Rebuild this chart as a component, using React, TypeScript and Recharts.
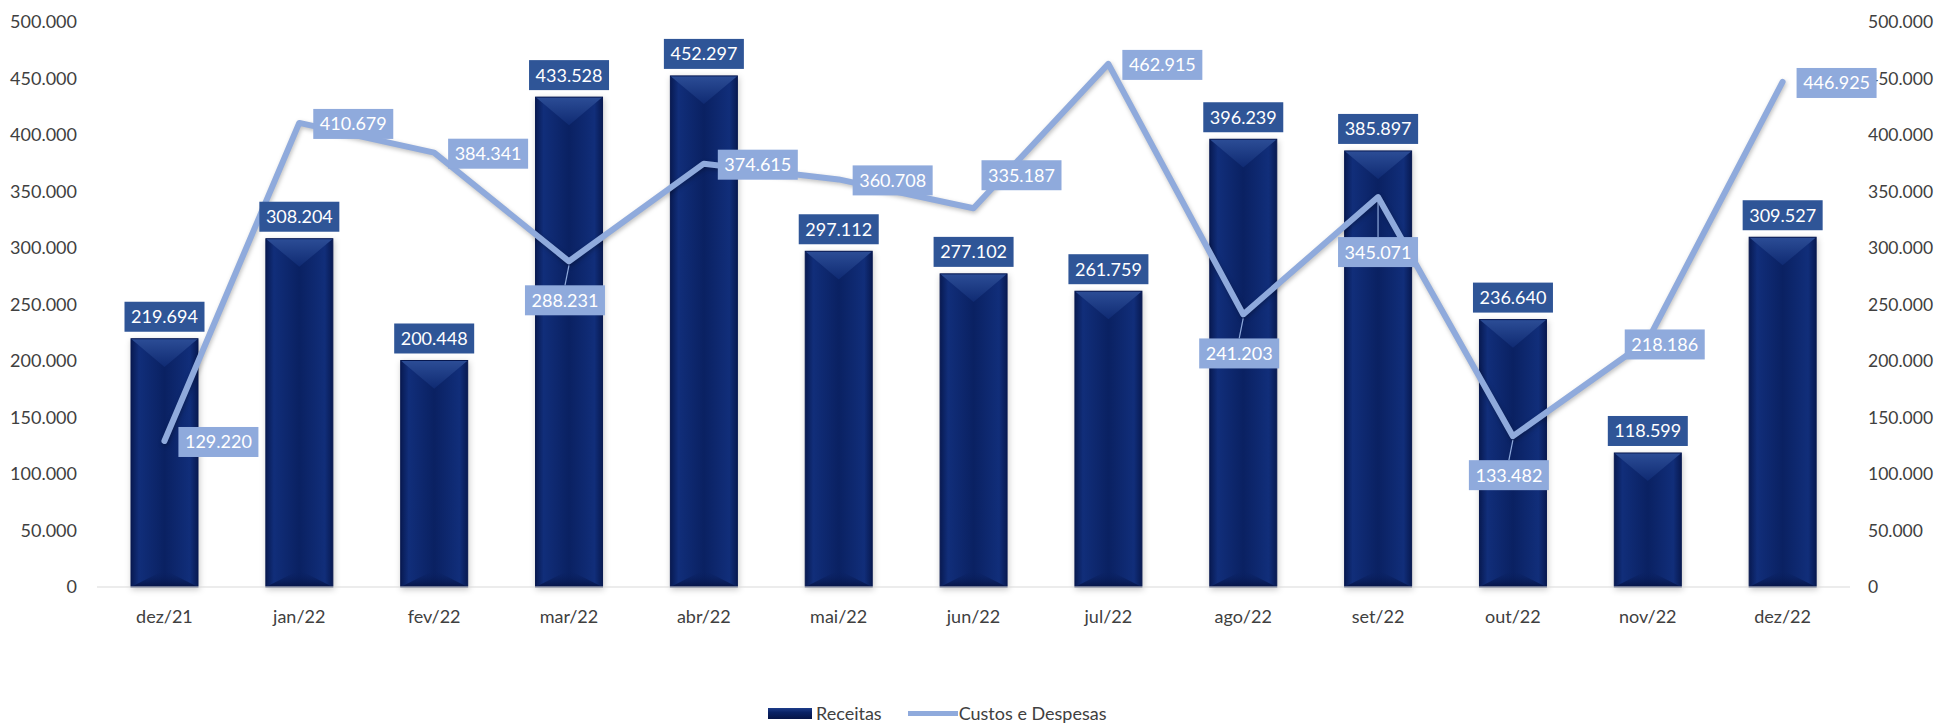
import React from 'react';
import {
  ComposedChart,
  Bar,
  Line,
  XAxis,
  YAxis,
  LabelList,
} from 'recharts';

const CATEGORIES = ['dez/21', 'jan/22', 'fev/22', 'mar/22', 'abr/22', 'mai/22', 'jun/22', 'jul/22', 'ago/22', 'set/22', 'out/22', 'nov/22', 'dez/22'];
const RECEITAS = [219694, 308204, 200448, 433528, 452297, 297112, 277102, 261759, 396239, 385897, 236640, 118599, 309527];
const CUSTOS = [129220, 410679, 384341, 288231, 374615, 360708, 335187, 462915, 241203, 345071, 133482, 218186, 446925];
const Y_TICKS = [0, 50000, 100000, 150000, 200000, 250000, 300000, 350000, 400000, 450000, 500000];

// where each "Custos e Despesas" label sits relative to its point
const LINE_LABEL_PLACEMENT = ['right', 'right', 'right', 'below', 'right', 'right', 'aboveRight', 'right', 'below', 'belowFar', 'below', 'center', 'right'];

const data = CATEGORIES.map((month, i) => ({
  month,
  receitas: RECEITAS[i],
  custos: CUSTOS[i],
}));

const FONT = 'Lato, "Open Sans", sans-serif';
const BAR_LABEL_BG = '#2f5597';
const LINE_COLOR = '#8faadc';
const TICK_COLOR = '#404040';

const fmt = (v: number) => String(Math.round(v)).replace(/\B(?=(\d{3})+(?!\d))/g, '.');

const BOX_W = 80;
const BOX_H = 30;

const BevelBar = (props: any) => {
  const { x, y, width: w, height: h, index } = props;
  if (!h || h <= 0) return null;
  const t = Math.min(w * 0.42, h / 2);
  const id = `bev-${index}`;
  return (
    <g style={{ filter: 'drop-shadow(1px 2px 3px rgba(0,0,0,0.22))' }}>
      <defs>
        <linearGradient id={`${id}-body`} x1="0" y1="0" x2="1" y2="0">
          <stop offset="0%" stopColor="#081a52" />
          <stop offset="12%" stopColor="#112e7a" />
          <stop offset="50%" stopColor="#0a2162" />
          <stop offset="88%" stopColor="#112e7a" />
          <stop offset="100%" stopColor="#081a52" />
        </linearGradient>
        <linearGradient id={`${id}-top`} x1="0" y1="0" x2="0" y2="1">
          <stop offset="0%" stopColor="#2c4d96" />
          <stop offset="100%" stopColor="#0f2a72" />
        </linearGradient>
        <linearGradient id={`${id}-bot`} x1="0" y1="1" x2="0" y2="0">
          <stop offset="0%" stopColor="#061446" />
          <stop offset="100%" stopColor="#0a2265" stopOpacity={0} />
        </linearGradient>
      </defs>
      <rect x={x} y={y} width={w} height={h} fill={`url(#${id}-body)`} />
      <polygon points={`${x},${y} ${x + w},${y} ${x + w / 2},${y + t}`} fill={`url(#${id}-top)`} />
      <polygon points={`${x},${y + h} ${x + w},${y + h} ${x + w / 2},${y + h - t * 0.6}`} fill={`url(#${id}-bot)`} />
      <rect x={x} y={y} width={w} height={h} fill="none" stroke="#071850" strokeWidth={1} />
    </g>
  );
};

const BarValueLabel = (props: any) => {
  const { x, y, width, value } = props;
  const cx = x + width / 2;
  const top = y - 7 - BOX_H;
  return (
    <g>
      <rect x={cx - BOX_W / 2} y={top} width={BOX_W} height={BOX_H} fill={BAR_LABEL_BG} />
      <text x={cx} y={top + BOX_H / 2} dy="0.36em" textAnchor="middle" fill="#fff" fontSize={18} fontFamily={FONT}>
        {fmt(value)}
      </text>
    </g>
  );
};

const LineValueLabel = (props: any) => {
  const { x, y, value, index } = props;
  const place = LINE_LABEL_PLACEMENT[index] || 'right';
  let left = x + 14;
  let cy = y + 1;
  let leader = false;
  if (place === 'below') {
    left = x - 4 - BOX_W / 2;
    cy = y + 24 + BOX_H / 2;
    leader = true;
  } else if (place === 'belowFar') {
    left = x - BOX_W / 2;
    cy = y + 40 + BOX_H / 2;
    leader = true;
  } else if (place === 'aboveRight') {
    left = x + 8;
    cy = y - 33;
  } else if (place === 'center') {
    left = x - 23;
    cy = y + 4;
  }
  return (
    <g>
      {leader && (
        <line x1={x} y1={y + 4} x2={left + BOX_W / 2} y2={cy - BOX_H / 2} stroke={LINE_COLOR} strokeWidth={1.2} />
      )}
      <rect x={left} y={cy - BOX_H / 2} width={BOX_W} height={BOX_H} fill={LINE_COLOR} />
      <text x={left + BOX_W / 2} y={cy} dy="0.36em" textAnchor="middle" fill="#fff" fontSize={18} fontFamily={FONT}>
        {fmt(value)}
      </text>
    </g>
  );
};

const Legend = () => (
  <div
    style={{
      position: 'absolute',
      left: 768,
      top: 702,
      display: 'flex',
      alignItems: 'center',
      fontFamily: FONT,
      fontSize: 18,
      color: TICK_COLOR,
      whiteSpace: 'nowrap',
    }}
  >
    <span style={{ display: 'inline-block', width: 44, height: 11, background: 'linear-gradient(#1d3c8a, #0a2265 40%, #061446)', marginRight: 4 }} />
    <span>Receitas</span>
    <span style={{ display: 'inline-block', width: 50, height: 5, background: LINE_COLOR, marginLeft: 26, marginRight: 1 }} />
    <span>Custos e Despesas</span>
  </div>
);

export default function App() {
  const tickStyle = { fontSize: 18, fontFamily: FONT, fill: TICK_COLOR };
  return (
    <div style={{ position: 'absolute', left: 0, top: 0, width: 1939, height: 726, background: '#fff' }}>
      <ComposedChart width={1939} height={726} data={data} margin={{ top: 22, right: 0, left: 0, bottom: 0 }}>
        <XAxis
          dataKey="month"
          height={139}
          tickLine={false}
          tickSize={0}
          tickMargin={23}
          axisLine={{ stroke: '#d9d9d9' }}
          tick={tickStyle}
          interval={0}
        />
        <YAxis
          yAxisId="left"
          width={97}
          domain={[0, 500000]}
          ticks={Y_TICKS}
          tickFormatter={fmt}
          axisLine={false}
          tickLine={false}
          tickSize={6}
          tickMargin={14}
          tick={tickStyle}
        />
        <YAxis
          yAxisId="right"
          orientation="right"
          width={89}
          domain={[0, 500000]}
          ticks={Y_TICKS}
          tickFormatter={fmt}
          axisLine={false}
          tickLine={false}
          tickSize={6}
          tickMargin={12}
          tick={{ ...tickStyle, fontSize: 17.5, textAnchor: 'start' }}
        />
        <Bar yAxisId="left" dataKey="receitas" name="Receitas" barSize={67} shape={<BevelBar />} isAnimationActive={false}>
          <LabelList dataKey="receitas" content={<BarValueLabel />} />
        </Bar>
        <Line
          yAxisId="right"
          dataKey="custos"
          name="Custos e Despesas"
          type="linear"
          stroke={LINE_COLOR}
          strokeWidth={6}
          strokeLinejoin="round"
          strokeLinecap="round"
          dot={false}
          activeDot={false}
          isAnimationActive={false}
          style={{ filter: 'drop-shadow(1px 2px 2px rgba(0,0,0,0.25))' }}
        >
          <LabelList dataKey="custos" content={<LineValueLabel />} />
        </Line>
      </ComposedChart>
      <Legend />
    </div>
  );
}
